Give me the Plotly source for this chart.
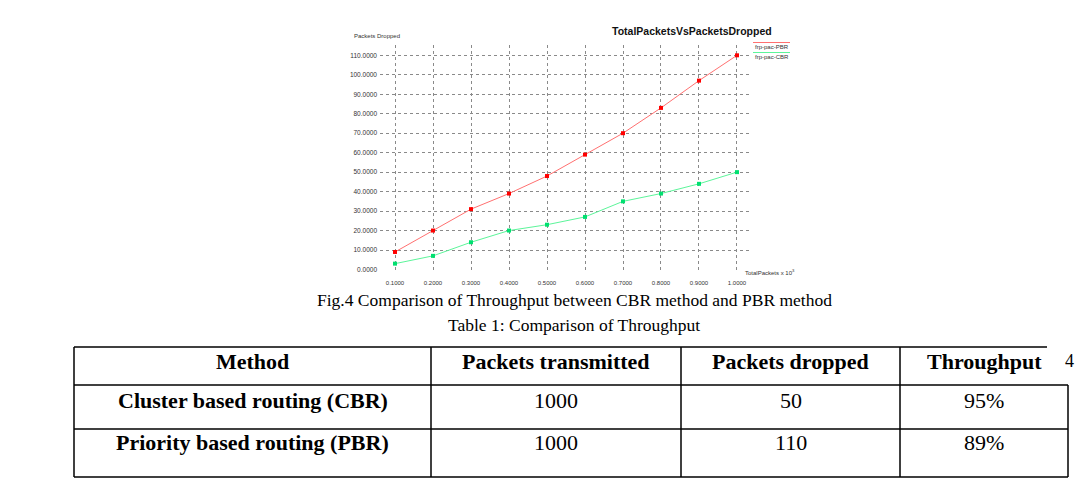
import plotly.graph_objects as go

# ---------------- data ----------------
total_packets = [0.1, 0.2, 0.3, 0.4, 0.5, 0.6, 0.7, 0.8, 0.9, 1.0]
dropped_pbr = [9, 20, 31, 39, 48, 59, 70, 83, 97, 110]
dropped_cbr = [3, 7, 14, 20, 23, 27, 35, 39, 44, 50]
series_names = ["frp-pac-PBR", "frp-pac-CBR"]
y_ticks = [0, 10, 20, 30, 40, 50, 60, 70, 80, 90, 100, 110]
chart_title = "TotalPacketsVsPacketsDropped"
y_title = "Packets Dropped"
x_title = "TotalPackets x 10<sup>3</sup>"
caption = "Fig.4 Comparison of Throughput between CBR method and PBR method"
table_caption = "Table 1: Comparison of Throughput"
table_header = ["Method", "Packets transmitted", "Packets dropped", "Throughput"]
table_methods = ["Cluster based routing (CBR)", "Priority based routing (PBR)"]
table_transmitted = ["1000", "1000"]
table_dropped = ["50", "110"]
table_throughput = ["95%", "89%"]
page_number = "4"

# ---------------- layout helpers ----------------
W, H = 1080, 496
def px(x):
    return x / W
def py(y):
    return 1 - y / H

SANS = "Liberation Sans, Arial, sans-serif"
SERIF = "Liberation Serif, Times New Roman, serif"

fig = go.Figure()
x_dom = [px(380), px(752)]
y_dom = [py(273), py(45)]
xr = [0.0605, 1.0395]
yr = [-1.8, 115.3]

# invisible trace to activate the grid axis (grid lines at 10..110 only)
fig.add_trace(go.Scatter(x=[total_packets[0]], y=[y_ticks[0]], yaxis="y2",
                         mode="markers", marker=dict(opacity=0),
                         showlegend=False, hoverinfo="skip"))
fig.add_trace(go.Scatter(
    x=total_packets, y=dropped_pbr, mode="lines+markers", name=series_names[0],
    line=dict(color="#ff7070", width=1),
    marker=dict(symbol="square", size=4, color="#ff0000"),
    showlegend=False))
fig.add_trace(go.Scatter(
    x=total_packets, y=dropped_cbr, mode="lines+markers", name=series_names[1],
    line=dict(color="#5cf59a", width=1),
    marker=dict(symbol="square", size=4, color="#00e070"),
    showlegend=False))

GRID = "#8a8a8a"
fig.update_layout(
    width=W, height=H,
    margin=dict(l=0, r=0, t=0, b=0),
    paper_bgcolor="white", plot_bgcolor="white",
    xaxis=dict(domain=x_dom, range=xr, tickvals=total_packets, tickformat=".4f",
               showgrid=True, gridcolor=GRID, griddash="dot", gridwidth=1,
               zeroline=False, showline=False, ticks="",
               tickfont=dict(family=SANS, size=6, color="#333333"),
               ticklabelstandoff=5),
    yaxis=dict(domain=y_dom, range=yr, tickvals=y_ticks, tickformat=".4f",
               showgrid=False, zeroline=False, showline=False, ticks="",
               tickfont=dict(family=SANS, size=6.5, color="#333333"),
               ticklabelstandoff=2),
    yaxis2=dict(domain=y_dom, range=yr, overlaying="y", tickvals=y_ticks[1:],
                showticklabels=False, showgrid=True, gridcolor=GRID,
                griddash="dot", gridwidth=1, zeroline=False, showline=False),
)

ann = []
shapes = []
def text(t, x, y, size, family, xanchor="center", color="black"):
    ann.append(dict(text=t, x=px(x), y=py(y), xref="paper", yref="paper",
                    xanchor=xanchor, yanchor="middle", showarrow=False,
                    font=dict(family=family, size=size, color=color)))

text("<b>" + chart_title + "</b>", 692, 31, 10.5, SANS, color="#111111")
text(y_title, 352, 36, 6, SANS, xanchor="left", color="#333333")
text(x_title, 743, 272, 6, SANS, xanchor="left", color="#333333")
# legend
leg_colors = ["#ff7070", "#5cf59a"]
for i, (nm, c) in enumerate(zip(series_names, leg_colors)):
    ytxt = 47 + 10 * i
    shapes.append(dict(type="line", xref="paper", yref="paper", x0=px(753), x1=px(790),
                       y0=py(ytxt - 4.5), y1=py(ytxt - 4.5), line=dict(color=c, width=1)))
    text(nm, 753, ytxt, 6, SANS, xanchor="left", color="#333333")

# captions
text(caption, 574, 300, 17.5, SERIF)
text(table_caption, 574, 325, 17.5, SERIF)

# table
L, C1, C2, C3, R = 74, 431, 681, 900, 1068
T, HB, R1, B = 347, 385, 429, 477
lw = dict(color="black", width=1.5)
def hline(x0, x1, y):
    shapes.append(dict(type="line", xref="paper", yref="paper", x0=px(x0), x1=px(x1),
                       y0=py(y), y1=py(y), line=lw))
def vline(x, y0, y1):
    shapes.append(dict(type="line", xref="paper", yref="paper", x0=px(x), x1=px(x),
                       y0=py(y0), y1=py(y1), line=lw))
hline(L, 1047, T)
hline(L, R, HB)
hline(L, R, R1)
hline(L, R, B)
vline(L, T, B)
vline(C1, T, B)
vline(C2, T, B)
vline(C3, T, B)
vline(R, HB, B)

col_centers = [(L + C1) / 2, (C1 + C2) / 2, (C2 + C3) / 2, (C3 + R) / 2]
for cx, h in zip(col_centers, table_header):
    text("<b>" + h + "</b>", cx, 361, 22, SERIF)
row_y = [400, 442]
for i, ry in enumerate(row_y):
    vals = ["<b>" + table_methods[i] + "</b>", table_transmitted[i],
            table_dropped[i], table_throughput[i]]
    for cx, v in zip(col_centers, vals):
        text(v, cx, ry, 22, SERIF)
text(page_number, 1069, 361, 18, SERIF)

fig.update_layout(annotations=ann, shapes=shapes)
fig.write_html("out.html", config={"displayModeBar": False},
               post_script="document.body.style.margin='0';")
